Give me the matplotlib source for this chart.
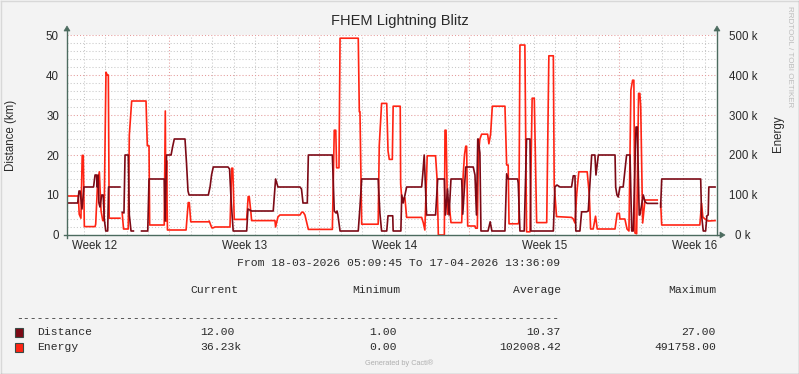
import matplotlib
matplotlib.use("Agg")
import matplotlib.pyplot as plt
import numpy as np
from datetime import datetime, timedelta
from matplotlib.lines import Line2D
from matplotlib.patches import Polygon, Rectangle

# ---------------- data ----------------
title = "FHEM Lightning Blitz"
start = datetime(2026, 3, 18, 5, 9, 45)
end = datetime(2026, 4, 17, 13, 36, 9)
week_labels = ["Week 12", "Week 13", "Week 14", "Week 15", "Week 16"]
dist_ticks = [0, 10, 20, 30, 40, 50]
energy_ticks = [0, 100, 200, 300, 400, 500]          # in k
energy_tick_labels = ["0 k", "100 k", "200 k", "300 k", "400 k", "500 k"]

nan = float("nan")
# Distance (km), time in days since start; nan = no data
distance_days = [
    0.00, 0.50, 0.56, 0.61, 0.70, 0.79, 1.24, 1.31, 1.38, 1.41,
    1.45, 1.49, 1.54, 1.62, 1.69, 1.74, 1.81, 1.90, 1.94, 2.47,
    2.52,
    2.58, 2.66, 2.71, 2.86, 2.91, 2.99, 3.10,
    3.30,
    3.48, 3.77, 3.83, 4.54, 4.58, 4.65, 4.86, 4.93, 5.01, 5.51,
    5.58, 5.65, 5.70, 6.60, 6.68, 6.75, 6.83, 7.52, 7.59, 7.66,
    7.76, 8.39, 8.45, 8.62, 9.63, 9.74, 9.85, 10.88, 10.95, 11.02,
    11.22, 11.27, 12.39, 12.48, 12.56, 12.61, 12.65, 12.75, 13.60, 13.68,
    13.76, 14.53, 14.61, 14.69, 14.93, 14.99, 15.21, 15.23, 15.59, 15.63,
    15.70, 15.86, 16.56, 16.61, 16.68, 16.79, 17.21, 17.31, 17.62, 17.67,
    17.77, 17.84, 17.93, 18.43, 18.48, 18.62, 18.97, 19.05, 19.12, 19.18,
    19.20, 19.28, 19.33, 19.66, 19.76, 19.84, 20.45, 20.53, 20.60, 21.04,
    21.07, 21.15, 21.35, 21.46, 21.62, 21.66, 22.71, 22.78, 22.88, 23.02,
    23.56, 23.64, 23.72, 23.76, 23.95, 24.03, 24.26, 24.34, 24.50, 24.65,
    24.70, 24.81, 25.59, 25.62, 25.68, 25.74, 25.82, 25.97, 26.13, 26.29,
    26.37, 26.44, 26.57, 26.63, 26.72, 26.75, 26.91, 26.99, 27.09, 27.56,
    27.64,
    27.72, 27.77, 29.59, 29.63, 29.71, 29.82, 29.88, 29.94, 29.97, 30.26,
]
distance_km = [
    8, 8, 11, 11, 6.5, 12, 12, 15, 15, 12,
    15, 8, 7, 10, 10, 4, 1, 1, 12, 12,
    nan,
    5.7, 5.5, 20, 20, 5, 1, 1,
    nan,
    1, 1, 14, 14, 3.5, 20, 20, 22, 24, 24,
    18, 11, 10, 10, 12, 15, 17, 17, 16.5, 9,
    1, 1, 6.5, 6, 6, 14, 12, 12, 11.5, 8,
    8, 20, 20, 6, 5.5, 6, 5, 1, 1, 7,
    14, 14, 5.5, 1, 1, 4.8, 4.8, 1, 1, 10,
    8, 12, 12, 15, 20, 5, 5, 14, 14, 5,
    11.5, 5, 14, 14, 5.2, 17, 17, 15, 5, 24,
    24, 20.5, 1, 1, 3.3, 1, 1, 15.3, 14, 14,
    13, 1, 1, 24, 24, 1, 1, 12, 12.5, 12,
    12, 14.8, 14.8, 1, 1, 5.8, 5.8, 6, 20, 20,
    15, 20, 20, 12, 10, 9.5, 12, 12, 20, 20,
    1, 1, 27, 27, 5, 5, 10, 8.3, 7.9, 7.9,
    nan,
    7, 14, 14, 5, 1, 1, 4.8, 5, 12, 12,
]

# Energy (k), time in days since start; nan = no data
energy_days = [
    0.00, 0.53, 0.57, 0.65, 0.71, 0.76, 0.81, 1.31, 1.34, 1.43,
    1.51, 1.59, 1.67, 1.73, 1.75, 1.82, 1.88, 1.93, 1.97, 2.47,
    2.52,
    2.58, 2.64, 2.86, 2.91, 3.02, 3.69, 3.75, 3.83, 3.86, 4.54,
    4.59, 4.62, 4.65, 4.69, 5.56, 5.66, 5.71, 5.78, 6.60, 6.64,
    6.76, 6.83, 6.91, 7.61, 7.69, 7.74, 7.81, 8.39, 8.46, 8.51,
    8.59, 8.62, 9.71, 9.74, 9.85, 9.94, 10.88, 10.96, 11.03, 11.11,
    11.27, 12.39, 12.48, 12.55, 12.59, 12.70, 12.75, 13.60, 13.65, 13.68,
    13.76, 14.53, 14.58, 14.69, 14.93, 14.99, 15.05, 15.19, 15.23, 15.56,
    15.58, 15.63, 15.78, 15.86, 16.56, 16.64, 16.71, 16.82, 17.21, 17.28,
    17.34, 17.62, 17.65, 17.70, 17.77, 17.84, 17.93, 18.43, 18.50, 18.56,
    18.62, 18.66, 18.71, 19.05, 19.08, 19.16, 19.21, 19.28, 19.36, 19.64,
    19.70, 19.78, 19.86, 20.45, 20.53, 20.60, 20.64, 21.07, 21.10, 21.15,
    21.38, 21.46, 21.62, 21.72, 21.82, 21.93, 22.40, 22.50, 22.71, 22.75,
    22.86, 23.56, 23.64, 23.72, 23.80, 23.90, 24.29, 24.39, 24.45, 24.57,
    24.68, 24.76, 25.59, 25.69, 25.79, 25.82, 26.05, 26.15, 26.24, 26.33,
    26.41, 26.47, 26.52, 26.60, 26.69, 26.75, 26.79, 26.88, 26.94, 26.99,
    27.56,
    27.64,
    27.72, 27.77, 29.55, 29.63, 29.69, 29.79, 29.94, 30.26,
]
energy_k = [
    97.5, 97.5, 52, 42, 199, 199, 21, 21, 27, 133,
    158, 60, 36, 36, 120, 407, 400, 400, 42, 42,
    nan,
    53, 15, 15, 250, 335, 335, 223, 223, 25, 25,
    310, 35, 186, 12.5, 12.5, 81, 81, 33, 33, 35,
    18, 18, 20, 20, 167, 167, 39, 39, 96, 96,
    55, 36, 36, 20, 45, 50, 50, 57, 57, 50,
    14, 14, 262, 262, 168, 168, 492, 492, 308, 308,
    27, 27, 223, 329, 329, 210, 189, 189, 322, 322,
    128, 92, 92, 44, 44, 30, 12.5, 198, 198, 140,
    0, 0, 262, 262, 52, 80, 31, 31, 150, 200,
    222, 222, 22.5, 22.5, 17, 17, 200, 240, 252, 252,
    228, 252, 322, 322, 175, 175, 28, 28, 33, 475,
    475, 8, 8, 342, 342, 31, 31, 448, 448, 125,
    46, 44, 40, 30, 102, 158, 158, 100, 15, 15,
    47, 15, 15, 54, 54, 40, 40, 15, 10, 362,
    387, 387, 5, 3, 354, 354, 320, 30, 60, 87.5,
    87.5,
    nan,
    80, 25, 25, 79, 45, 40, 35, 36,
]

legend_names = ["Distance", "Energy"]
legend_current = ["12.00", "36.23k"]
legend_minimum = ["1.00", "0.00"]
legend_average = ["10.37", "102008.42"]
legend_maximum = ["27.00", "491758.00"]

assert len(distance_days) == len(distance_km)
assert len(energy_days) == len(energy_k)

# ---------------- style ----------------
W, H = 799, 374
BG = "#F3F3F3"
AXIS_C = "#4C6B5F"
TXT = "#2A2A2A"
C_DIST = "#7C0A16"
C_EN = "#FF2414"
SANS = ["Liberation Sans", "DejaVu Sans"]
MONO = ["Liberation Mono", "DejaVu Sans Mono"]


def fx(x):
    return x / W


def fy(y):
    return 1 - y / H


fig = plt.figure(figsize=(W / 100, H / 100), dpi=100, facecolor=BG)

L, R, T, B = 67, 717, 35, 235
rect = [fx(L), fy(B), (R - L) / W, (B - T) / H]
ax_e = fig.add_axes(rect)          # bottom: white canvas, grid, energy
ax_d = fig.add_axes(rect)          # top: distance, transparent
ax_d.patch.set_visible(False)
ax_e.set_facecolor("white")
for a in (ax_e, ax_d):
    for s in a.spines.values():
        s.set_visible(False)

total_days = (end - start).total_seconds() / 86400.0
ax_e.set_xlim(0, total_days)
ax_d.set_xlim(0, total_days)
ax_e.set_ylim(0, 500)
ax_d.set_ylim(0, 50)

# grid
minor_style = dict(color="#C8C8C8", lw=0.75, ls=(0, (1, 2)), zorder=0)
major_style = dict(color="#E49A9A", lw=0.75, ls=(0, (1, 2)), zorder=0.5)
m = datetime(start.year, start.month, start.day) + timedelta(days=1)
mondays = []
while m < end:
    d = (m - start).total_seconds() / 86400.0
    if m.weekday() == 0:
        mondays.append(d)
        ax_e.axvline(d, **major_style)
    else:
        ax_e.axvline(d, **minor_style)
    m += timedelta(days=1)
for v in range(20, 501, 20):
    if v % 100 == 0:
        ax_e.axhline(v, **major_style)
    else:
        ax_e.axhline(v, **minor_style)

# data lines
ax_e.plot(energy_days, energy_k, color=C_EN, lw=1.2, zorder=3)
ax_d.plot(distance_days, distance_km, color=C_DIST, lw=1.2, zorder=3)

# ticks
label_pos = [mondays[0] - 3.5 + 7 * i for i in range(len(week_labels))]
ax_d.set_xticks(label_pos, week_labels)
ax_d.tick_params(axis="x", length=0, pad=3.5, labelsize=8.3, labelcolor=TXT)
for t in ax_d.get_xticklabels():
    t.set_fontfamily(SANS)
ax_e.set_xticks([])

ax_d.set_yticks(dist_ticks, [str(v) for v in dist_ticks])
ax_d.tick_params(axis="y", length=0, pad=5.8, labelsize=8.3, labelcolor=TXT)
for t in ax_d.get_yticklabels():
    t.set_fontfamily(SANS)

ax_e.yaxis.tick_right()
ax_e.set_yticks(energy_ticks, energy_tick_labels)
ax_e.tick_params(axis="y", length=0, pad=18.7, labelsize=8.3, labelcolor=TXT)
for t in ax_e.get_yticklabels():
    t.set_fontfamily(SANS)
    t.set_horizontalalignment("center")

# axis lines with arrows
def fline(x0, y0, x1, y1, color=AXIS_C, lw=1.0):
    fig.add_artist(Line2D([fx(x0), fx(x1)], [fy(y0), fy(y1)], color=color,
                          lw=lw, transform=fig.transFigure, zorder=10))


def arrow(pts):
    fig.add_artist(Polygon([(fx(x), fy(y)) for x, y in pts], closed=True,
                           facecolor=AXIS_C, edgecolor=AXIS_C, lw=0.5,
                           transform=fig.transFigure, zorder=10))


fline(L, B + 3, L, T - 5)
arrow([(L - 3, T - 4), (L + 3, T - 4), (L, T - 9)])
fline(R, B, R, T - 5)
arrow([(R - 3, T - 4), (R + 3, T - 4), (R, T - 9)])
fline(L - 3, B, R + 3, B)
arrow([(R + 3, B - 3), (R + 3, B + 3), (R + 8, B)])

# titles / labels
fig.text(fx(399.5), fy(21), title, ha="center", va="center", fontsize=10.5,
         color=TXT, family=SANS)
fig.text(fx(11), fy(135), "Distance (km)", rotation=90, ha="center",
         va="center", fontsize=8.3, color=TXT, family=SANS)
fig.text(fx(778), fy(134), "Energy", rotation=90, ha="center", va="center",
         fontsize=8.3, color=TXT, family=SANS)
fig.text(fx(789), fy(57), "RRDTOOL / TOBI OETIKER", rotation=270, ha="center",
         va="center", fontsize=5.8, color="#BDBDBD", family=SANS)

# legend area
MS = 8.2
fig.text(fx(399), fy(263), "From 18-03-2026 05:09:45 To 17-04-2026 13:36:09",
         ha="center", va="center", fontsize=MS, color=TXT, family=MONO)
for x, s in [(239, "Current"), (400, "Minimum"), (561, "Average"), (716, "Maximum")]:
    fig.text(fx(x), fy(290), s, ha="right", va="center", fontsize=MS,
             color=TXT, family=MONO)
fig.text(fx(16), fy(318), "-" * 79, ha="left", va="center", fontsize=MS,
         color=TXT, family=MONO)

row_y = [332, 347]
row_c = [C_DIST, C_EN]
for i in range(2):
    y = row_y[i]
    fig.add_artist(Rectangle((fx(15), fy(y + 4.5)), 8 / W, 9 / H,
                             facecolor=row_c[i], edgecolor="#3A4A44", lw=0.8,
                             transform=fig.transFigure))
    fig.text(fx(37), fy(y), legend_names[i], ha="left", va="center",
             fontsize=MS, color=TXT, family=MONO)
    fig.text(fx(200), fy(y), legend_current[i], ha="left", va="center",
             fontsize=MS, color=TXT, family=MONO)
    fig.text(fx(397), fy(y), legend_minimum[i], ha="right", va="center",
             fontsize=MS, color=TXT, family=MONO)
    fig.text(fx(561), fy(y), legend_average[i], ha="right", va="center",
             fontsize=MS, color=TXT, family=MONO)
    fig.text(fx(716), fy(y), legend_maximum[i], ha="right", va="center",
             fontsize=MS, color=TXT, family=MONO)

fig.text(fx(399.5), fy(363.5), "Generated by Cacti\u00ae", ha="center",
         va="center", fontsize=5.3, color="#B0B0B0", family=SANS)

# outer border
fline(0.5, 0.5, W - 0.5, 0.5, color="#D8D8D8")
fline(0.5, 0.5, 0.5, H - 0.5, color="#D8D8D8")
fline(0.5, H - 0.5, W - 0.5, H - 0.5, color="#A0A0A0")
fline(W - 0.5, 0.5, W - 0.5, H - 0.5, color="#A0A0A0")

fig.savefig("out.png", dpi=100, facecolor=BG)
